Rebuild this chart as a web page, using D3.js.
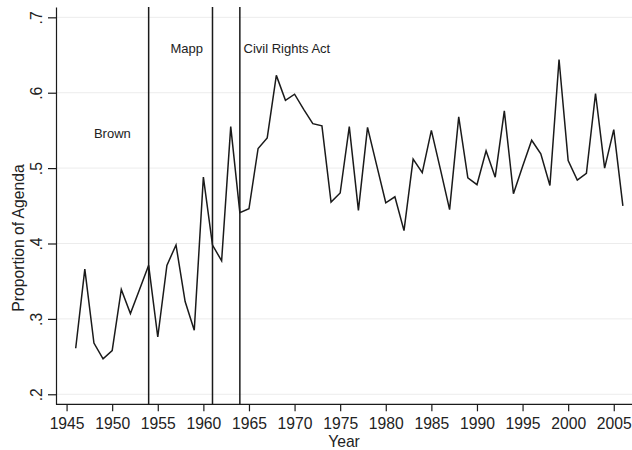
<!DOCTYPE html>
<html>
<head>
<meta charset="utf-8">
<script src="https://cdn.jsdelivr.net/npm/d3@7"></script>
<style>
  body { margin: 0; background: #fff; }
  svg { display: block; font-family: "Liberation Sans", Arial, sans-serif; }
</style>
</head>
<body>
<div id="chart"></div>
<script>
// yearly values
var years = d3.range(1946, 2007);
var agenda = [
  .261, .366, .268, .247, .258, .339, .307, .339, .371, .276,
  .371, .398, .323, .285, .488, .398, .377, .555, .441, .446,
  .526, .540, .623, .590, .598, .578, .559, .556, .455, .467,
  .555, .444, .554, .504, .454, .462, .417, .512, .494, .550,
  .498, .445, .568, .487, .478, .523, .488, .576, .466, .502,
  .537, .519, .477, .644, .510, .484, .493, .599, .500, .551,
  .450
];
var eventYears = [1954, 1961, 1964];
var noteText = ['Brown', 'Mapp', 'Civil Rights Act'];
var noteYear = [1948, 1956.4, 1964.4];
var noteValue = [.54, .653, .653];
var xTicks = d3.range(1945, 2006, 5);
var yTicks = [.2, .3, .4, .5, .6, .7];

var width = 632, height = 450;
var fontSize = 15.7;

var svg = d3.select('#chart').append('svg')
  .attr('width', width)
  .attr('height', height);

var xScale = d3.scaleLinear()
  .domain([1943.84, 2007])
  .range([56, 632]);

var yScale = d3.scaleLinear()
  .domain([.1867, .7137])
  .range([404.3, 7]);

// grid
svg.append('g')
  .selectAll('line').data(yTicks)
  .enter().append('line')
    .attr('x1', 56).attr('x2', 632)
    .attr('y1', function(d) { return yScale(d); })
    .attr('y2', function(d) { return yScale(d); })
    .attr('stroke', '#ececec')
    .attr('stroke-width', 1);

// event lines
svg.append('g')
  .selectAll('line').data(eventYears)
  .enter().append('line')
    .attr('x1', function(d) { return xScale(d); })
    .attr('x2', function(d) { return xScale(d); })
    .attr('y1', yScale.range()[1])
    .attr('y2', yScale.range()[0])
    .attr('stroke', '#1a1a1a')
    .attr('stroke-width', 1.5);

// series
var line = d3.line()
  .x(function(d, i) { return xScale(years[i]); })
  .y(function(d) { return yScale(d); });

svg.append('path')
  .datum(agenda)
  .attr('d', line)
  .attr('fill', 'none')
  .attr('stroke', '#1a1a1a')
  .attr('stroke-width', 1.5)
  .attr('stroke-linejoin', 'miter');

// notes
svg.append('g')
  .selectAll('text').data(noteText)
  .enter().append('text')
    .attr('x', function(d, i) { return xScale(noteYear[i]); })
    .attr('y', function(d, i) { return yScale(noteValue[i]); })
    .attr('font-size', 13)
    .attr('fill', '#222')
    .text(function(d) { return d; });

// axes
var xAxis = d3.axisBottom(xScale)
  .tickValues(xTicks)
  .tickFormat(d3.format('d'))
  .tickSize(7)
  .tickPadding(7)
  .tickSizeOuter(0);

var xGuide = svg.append('g')
  .attr('transform', 'translate(0,404.3)')
  .call(xAxis);
xGuide.select('.domain').attr('d', 'M56,0H632');

var yAxis = d3.axisLeft(yScale)
  .tickValues(yTicks)
  .tickFormat(function(d) { return d3.format('.1f')(d).replace(/^0/, ''); })
  .tickSize(8)
  .tickSizeOuter(0);

var yGuide = svg.append('g')
  .attr('transform', 'translate(56,0)')
  .call(yAxis);

yGuide.selectAll('.tick text')
  .attr('x', 0)
  .attr('y', -14)
  .attr('dy', null)
  .attr('text-anchor', 'middle')
  .attr('transform', 'rotate(-90)');

svg.selectAll('.domain, .tick line')
  .attr('stroke', '#1a1a1a')
  .attr('stroke-width', 1.2);
svg.selectAll('.tick text')
  .attr('font-size', fontSize)
  .attr('font-family', '"Liberation Sans", Arial, sans-serif')
  .attr('fill', '#222');

// titles
svg.append('text')
  .attr('transform', 'translate(24,238) rotate(-90)')
  .attr('text-anchor', 'middle')
  .attr('font-size', fontSize)
  .attr('fill', '#222')
  .text('Proportion of Agenda');

svg.append('text')
  .attr('x', 344)
  .attr('y', 447)
  .attr('text-anchor', 'middle')
  .attr('font-size', fontSize)
  .attr('fill', '#222')
  .text('Year');
</script>
</body>
</html>
